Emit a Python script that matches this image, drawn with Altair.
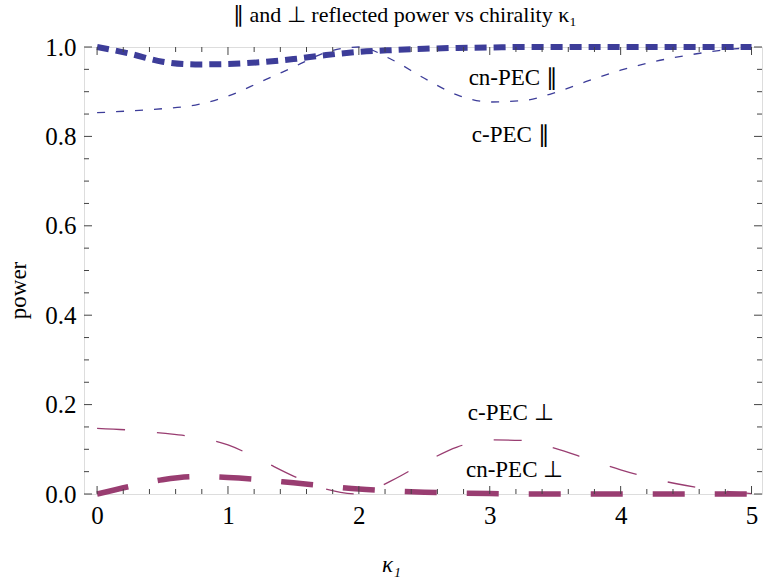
import altair as alt
import pandas as pd

# ---- data ----
kappa = [0, 0.25, 0.5, 0.75, 1.0, 1.25, 1.5, 1.75, 2.0, 2.25, 2.5,
         2.75, 3.0, 3.25, 3.5, 3.75, 4.0, 4.25, 4.5, 4.75, 5.0]
cn_par = [1.0, 0.985, 0.967, 0.961, 0.962, 0.966, 0.973, 0.982, 0.989, 0.993, 0.996,
          0.998, 0.999, 1.0, 1.0, 1.0, 1.0, 1.0, 1.0, 1.0, 1.0]
c_par = [0.853, 0.857, 0.862, 0.870, 0.890, 0.922, 0.955, 0.988, 1.0, 0.972, 0.930,
         0.893, 0.877, 0.880, 0.898, 0.924, 0.948, 0.967, 0.981, 0.992, 0.999]
c_perp = [0.147, 0.143, 0.136, 0.127, 0.110, 0.076, 0.040, 0.011, 0.0, 0.030, 0.070,
          0.105, 0.121, 0.120, 0.102, 0.078, 0.054, 0.034, 0.019, 0.008, 0.001]
cn_perp = [0.0, 0.017, 0.032, 0.039, 0.037, 0.032, 0.025, 0.018, 0.011, 0.007, 0.004,
           0.002, 0.001, 0.0, 0.0, 0.0, 0.0, 0.0, 0.0, 0.0, 0.0]

label_text = ["cn-PEC \u2225", "c-PEC \u2225", "c-PEC \u22a5", "cn-PEC \u22a5"]
label_x = [3.18, 3.16, 3.16, 3.19]
label_y = [0.931, 0.803, 0.181, 0.054]

x_major = [0, 1, 2, 3, 4, 5]
x_minor = [0.2, 0.4, 0.6, 0.8, 1.2, 1.4, 1.6, 1.8, 2.2, 2.4, 2.6, 2.8,
           3.2, 3.4, 3.6, 3.8, 4.2, 4.4, 4.6, 4.8]
y_major = [0.0, 0.2, 0.4, 0.6, 0.8, 1.0]
y_minor = [0.05, 0.1, 0.15, 0.25, 0.3, 0.35, 0.45, 0.5, 0.55,
           0.65, 0.7, 0.75, 0.85, 0.9, 0.95]

# ---- styling ----
W, H = 678, 447
FONT = "Liberation Serif"
BLUE = "#3d3d99"
PURPLE = "#993d71"
TICK = "#444444"

xs = alt.Scale(domain=[-0.1, 5.08], nice=False, zero=False)
ys = alt.Scale(domain=[0, 1], nice=False, zero=False)

x_axis = alt.Axis(values=x_major, format="d", ticks=False, domain=False, grid=False,
                  labelFontSize=25, labelPadding=9, labelFont=FONT, labelColor="black",
                  labelFlush=False,
                  title="\u03ba\u2081", titleFont=FONT, titleFontSize=23, titleFontStyle="italic",
                  titleFontWeight="normal", titleColor="black",
                  titleX=307, titleY=77, titleBaseline="alphabetic", titleAlign="center")
y_axis = alt.Axis(values=y_major, format=".1f", ticks=False, domain=False, grid=False,
                  labelFontSize=25, labelPadding=8, labelFont=FONT, labelColor="black",
                  labelFlush=False,
                  title="power", titleFont=FONT, titleFontSize=23, titleFontWeight="normal",
                  titleColor="black", titleAngle=-90, titleX=-66, titleY=243,
                  titleAlign="center", titleBaseline="middle")


def X(field):
    return alt.X(field, scale=xs, axis=x_axis)


def Y(field):
    return alt.Y(field, scale=ys, axis=y_axis)


def curve(values, color, dash, width):
    df = pd.DataFrame({"k": kappa, "p": values})
    return alt.Chart(df).mark_line(
        color=color, strokeDash=dash, strokeWidth=width, interpolate="monotone"
    ).encode(x=X("k:Q"), y=Y("p:Q"))


def ticks(vals, side, length):
    df = pd.DataFrame({"t": vals})
    m = alt.Chart(df).mark_rule(color=TICK, strokeWidth=1)
    if side == "left":
        return m.encode(y=Y("t:Q"), x=alt.value(0), x2=alt.value(length))
    if side == "right":
        return m.encode(y=Y("t:Q"), x=alt.value(W - length), x2=alt.value(W))
    if side == "bottom":
        return m.encode(x=X("t:Q"), y=alt.value(H - length), y2=alt.value(H))
    return m.encode(x=X("t:Q"), y=alt.value(0), y2=alt.value(length))


tick_layers = []
for side in ["left", "right"]:
    tick_layers.append(ticks(y_major, side, 8))
    tick_layers.append(ticks(y_minor, side, 5))
for side in ["bottom", "top"]:
    tick_layers.append(ticks(x_major, side, 8))
    tick_layers.append(ticks(x_minor, side, 5))

lines = [
    curve(c_par, BLUE, [8, 11], 1.3),
    curve(c_perp, PURPLE, [28, 32], 1.3),
    curve(cn_par, BLUE, [12, 7], 6),
    curve(cn_perp, PURPLE, [32, 30], 5.5),
]

lab_df = pd.DataFrame({"lab": label_text, "lx": label_x, "ly": label_y})
labels = alt.Chart(lab_df).mark_text(
    font=FONT, fontSize=23, color="black", align="center", baseline="middle"
).encode(x=X("lx:Q"), y=Y("ly:Q"), text="lab:N")

chart = alt.layer(*lines, *tick_layers, labels).properties(
    width=W,
    height=H,
    padding={"left": 84, "top": 47, "right": 2, "bottom": 85},
    autosize=alt.AutoSizeParams(type="none"),
    title=alt.TitleParams(
        text="\u2225 and \u22a5 reflected power vs chirality \u03ba\u2081",
        font=FONT, fontSize=22, fontWeight="normal", color="black",
        anchor="middle", dx=-18, offset=8,
    ),
).configure_view(
    stroke="#666666", strokeWidth=1
).configure_axis(
    labelFont=FONT, titleFont=FONT
).configure_title(
    font=FONT
).configure(font=FONT)

chart.save("out.html", embed_options={"renderer": "svg", "actions": False})
